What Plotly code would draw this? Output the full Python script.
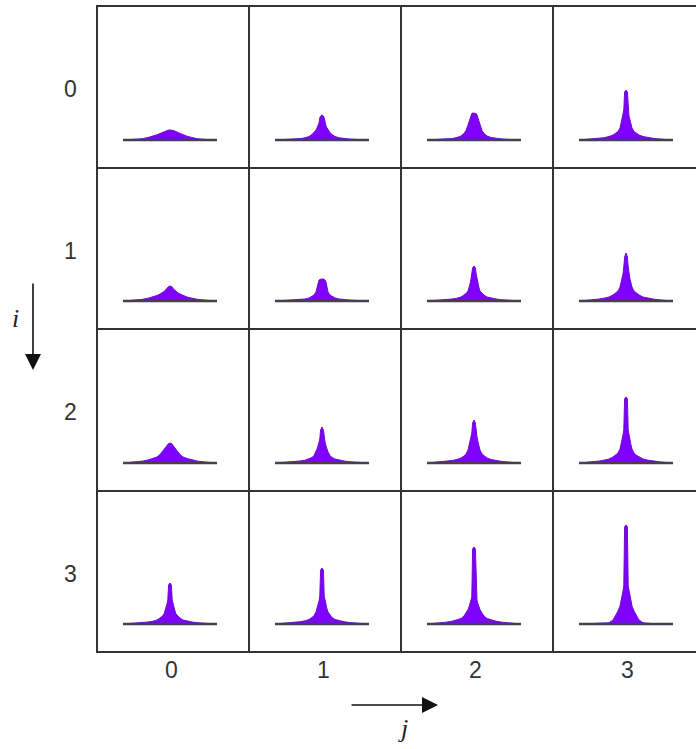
import plotly.graph_objects as go

# ---------------- data ----------------
row_labels = ["0", "1", "2", "3"]
col_labels = ["0", "1", "2", "3"]

# half-profile sample offsets (distance from the centre of each distribution)
offsets = [0, 1.4, 2.2, 3, 4, 5, 6, 8, 10, 13, 17, 22, 28, 36, 47]

# heights of each distribution at those offsets (row i, column j)
h00 = [10, 10, 9.8, 9.5, 9.2, 9, 8.5, 7.5, 6.5, 5.2, 3.8, 2.5, 1.2, 0.5, 0]
h01 = [25, 24, 22, 17, 14, 12, 10, 7.5, 5.5, 3.5, 2.2, 1.4, 0.9, 0.5, 0]
h02 = [27, 27, 26.5, 25, 22, 18, 15, 9.5, 6.5, 4, 2.5, 1.5, 1, 0.5, 0]
h03 = [50, 48, 30, 24, 20, 16, 12, 8.5, 7, 5, 3.5, 2.3, 1.5, 0.8, 0]
h10 = [15, 14.5, 14, 12.5, 11.5, 10.5, 9.5, 8, 7, 5.5, 4, 2.8, 1.6, 0.8, 0]
h11 = [22, 22, 21.5, 21, 19, 14, 9, 6, 4.5, 3, 2, 1.4, 0.9, 0.5, 0]
h12 = [35, 33, 27, 22, 17, 13, 10, 7.5, 6, 4, 2.8, 2, 1.2, 0.6, 0]
h13 = [48, 44, 34, 27, 22, 18, 14, 10, 8, 6, 4, 2.8, 1.8, 0.9, 0]
h20 = [20, 19.5, 19, 17.5, 16, 15, 13.5, 11, 8.5, 6, 4.5, 3, 1.8, 0.9, 0]
h21 = [36, 33, 24, 21, 17, 14, 11, 7.5, 5.5, 4, 2.8, 2, 1.2, 0.6, 0]
h22 = [43, 40, 30, 26, 21, 17, 13, 9, 7, 5, 3.5, 2.5, 1.5, 0.8, 0]
h23 = [66, 64, 33, 28, 22, 18, 14, 10, 8, 6, 4, 2.8, 1.8, 0.9, 0]
h30 = [41, 39, 24, 20, 16, 13, 10, 7.5, 6, 4, 2.8, 2, 1.2, 0.6, 0]
h31 = [56, 54, 28, 23, 19, 15, 12, 8.5, 6.5, 4.5, 3.2, 2.3, 1.4, 0.7, 0]
h32 = [77, 75, 27, 24, 20, 17, 14.5, 11, 8, 5.5, 4, 2.8, 1.8, 0.8, 0]
h33 = [99, 97, 38, 33, 27, 22, 18, 13, 9, 4, 1.2, 0.5, 0.3, 0.2, 0]

profiles = [[h00, h01, h02, h03],
            [h10, h11, h12, h13],
            [h20, h21, h22, h23],
            [h30, h31, h32, h33]]

# ---------------- layout geometry ----------------
W, H = 696, 749
col_edges = [97, 249, 401, 553, 705]
row_edges = [6, 168, 329, 491, 652]
left_off = 73      # distance from cell left edge to distribution centre
below = 28         # distance from baseline to cell bottom
FILL = "#7f00ff"
EDGE = "#6a0fd0"
GRID = "#333333"

fig = go.Figure()
layout_axes = {}
k = 0
for i in range(4):
    for j in range(4):
        k += 1
        xa = "x" if k == 1 else f"x{k}"
        ya = "y" if k == 1 else f"y{k}"
        x0p, x1p = col_edges[j], min(col_edges[j + 1], W)
        y0p, y1p = row_edges[i], row_edges[i + 1]
        xr = [-left_off, (x1p - x0p) - left_off]
        yr = [-below, (y1p - y0p) - below]
        prof = profiles[i][j]
        xs = [-d for d in offsets[::-1]] + offsets[1:]
        ys = prof[::-1] + prof[1:]
        fig.add_trace(go.Scatter(x=xs, y=ys, mode="lines", fill="tozeroy",
                                 fillcolor=FILL, line=dict(color=EDGE, width=1),
                                 xaxis=xa, yaxis=ya, hoverinfo="skip",
                                 showlegend=False))
        fig.add_trace(go.Scatter(x=[-offsets[-1], offsets[-1]], y=[0, 0],
                                 mode="lines", line=dict(color="#454050", width=2.5),
                                 xaxis=xa, yaxis=ya, hoverinfo="skip",
                                 showlegend=False))
        axkey = "xaxis" if k == 1 else f"xaxis{k}"
        aykey = "yaxis" if k == 1 else f"yaxis{k}"
        layout_axes[axkey] = dict(domain=[x0p / W, x1p / W], range=xr,
                                  visible=False, fixedrange=True, anchor=ya)
        layout_axes[aykey] = dict(domain=[1 - y1p / H, 1 - y0p / H], range=yr,
                                  visible=False, fixedrange=True, anchor=xa)

fig.update_layout(**layout_axes)

shapes = []
for xe in col_edges[:4]:
    shapes.append(dict(type="line", xref="paper", yref="paper",
                       x0=xe / W, x1=xe / W, y0=1 - row_edges[0] / H + 0.0013,
                       y1=1 - row_edges[-1] / H - 0.0013,
                       line=dict(color=GRID, width=2)))
for ye in row_edges:
    shapes.append(dict(type="line", xref="paper", yref="paper",
                       x0=col_edges[0] / W - 0.0014, x1=1.01, y0=1 - ye / H, y1=1 - ye / H,
                       line=dict(color=GRID, width=2)))

annotations = []
lab_font = dict(family="Liberation Sans, Arial, sans-serif", size=23, color="#333333")
for j, lab in enumerate(col_labels):
    cx = (col_edges[j] + col_edges[j + 1]) / 2 - 2
    annotations.append(dict(text=lab, x=cx / W, y=1 - 670 / H, xref="paper", yref="paper",
                            xanchor="center", yanchor="middle",
                            showarrow=False, font=lab_font))
for i, lab in enumerate(row_labels):
    cy = (row_edges[i] + row_edges[i + 1]) / 2 + 2
    annotations.append(dict(text=lab, x=70 / W, y=1 - cy / H, xref="paper", yref="paper",
                            xanchor="center", yanchor="middle",
                            showarrow=False, font=lab_font))

# direction arrows (tail offsets in pixels)
annotations.append(dict(text="", x=438 / W, y=1 - 705 / H, ax=-88, ay=0,
                        xref="paper", yref="paper", axref="pixel", ayref="pixel",
                        showarrow=True, arrowhead=2, arrowsize=2, arrowwidth=1.6,
                        arrowcolor="#111111"))
annotations.append(dict(text="", x=33 / W, y=1 - 370 / H, ax=0, ay=-88,
                        xref="paper", yref="paper", axref="pixel", ayref="pixel",
                        showarrow=True, arrowhead=2, arrowsize=2, arrowwidth=1.6,
                        arrowcolor="#111111"))
it_font = dict(family="Liberation Serif, Times New Roman, serif", size=26, color="#222222")
annotations.append(dict(text="<i>j</i>", x=403 / W, y=1 - 728 / H, xref="paper", yref="paper",
                        xanchor="center", yanchor="middle",
                        showarrow=False, font=it_font))
annotations.append(dict(text="<i>i</i>", x=15 / W, y=1 - 318 / H, xref="paper", yref="paper",
                        xanchor="center", yanchor="middle",
                        showarrow=False, font=it_font))

fig.update_layout(width=W, height=H, margin=dict(l=0, r=0, t=0, b=0),
                  paper_bgcolor="white", plot_bgcolor="white",
                  shapes=shapes, annotations=annotations, showlegend=False)

fig.write_html("out.html", config={"displayModeBar": False},
               post_script="document.body.style.margin='0px';document.body.style.overflow='hidden';")
